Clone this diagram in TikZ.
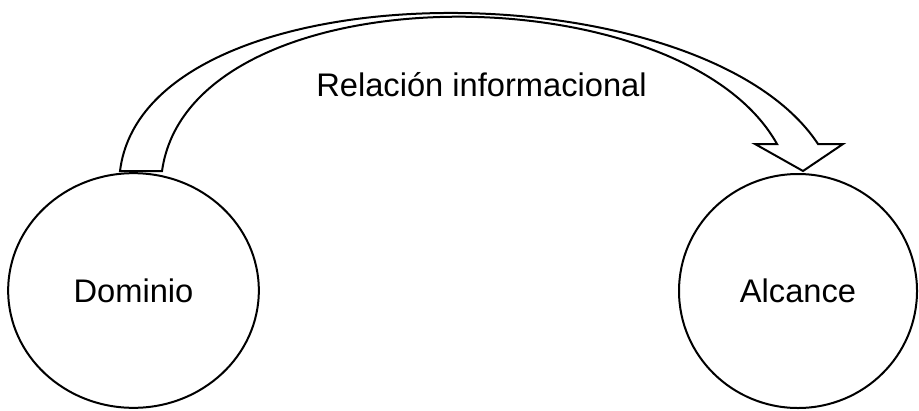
\documentclass[tikz,border=0pt]{standalone}
\usepackage{fontspec}
\setmainfont{Liberation Sans}
\usetikzlibrary{shapes.geometric, calc}
\tikzstyle{concept} = [ellipse, draw = black, line width=1.5pt, inner sep=0pt, font=\fontsize{24.5}{29}\selectfont]
\tikzstyle{label} = [inner sep=0pt, font=\fontsize{24.5}{29}\selectfont]
\tikzstyle{bigarrow} = [draw = black, fill = white, line width=1.5pt, line join=miter]

\begin{document}
\begin{tikzpicture}[x=0.75pt, y=-0.75pt]
	\useasboundingbox (0,0) rectangle (919,410);

	% Concepts - - - - - - - - - - - - - - - - - - - - - - - - - - - - - - - -
	\node(dom) [concept, minimum width=188pt, minimum height=176pt] at (133.5,290.5) {Dominio};
	\node(alc) [concept, minimum width=178.5pt, minimum height=175.5pt] at (798,291) {Alcance};

	% Relation arrow - - - - - - - - - - - - - - - - - - - - - - - - - - - - -
	\draw[bigarrow] ($(dom.north)+(-13.5,-1)$)
		.. controls (145,-35) and (700,-35) .. ($(alc.north)+(20,-29)$)
		-- ($(alc.north)+(45,-29)$) -- ($(alc.north)+(5,-2)$)
		-- ($(alc.north)+(-43,-29)$) -- ($(alc.north)+(-21,-29)$)
		.. controls (680,-30) and (190,-30) .. ($(dom.north)+(28.5,-1)$) -- cycle;
	\node(rel) [label] at (481.5,85) {Relación informacional};

\end{tikzpicture}
\end{document}
